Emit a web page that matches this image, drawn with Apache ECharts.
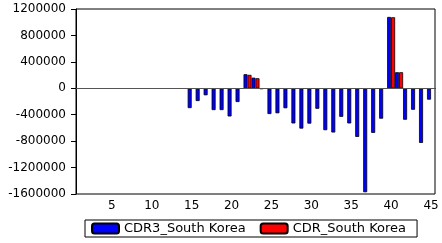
<!DOCTYPE html>
<html>
<head>
<meta charset="utf-8">
<script src="https://cdn.jsdelivr.net/npm/echarts@6.0.0/dist/echarts.min.js"></script>
<style>
  html, body { margin: 0; padding: 0; background: #fff; }
  #chart { width: 442px; height: 243px; }
</style>
</head>
<body>
<div id="chart"></div>
<script>
// x categories (observation number)
var categories = ['1','2','3','4','5','6','7','8','9','10','11','12','13','14','15',
    '16','17','18','19','20','21','22','23','24','25','26','27','28','29','30',
    '31','32','33','34','35','36','37','38','39','40','41','42','43','44','45'];

// CDR3_South Korea (blue)
var cdr3 = ['-','-','-','-','-','-','-','-','-','-','-','-','-','-',
    -300000, -193000, -106000, -330000, -330000, -426000, -208000, 213000, 161000, -12000,
    -390000, -378000, -302000, -532000, -610000, -535000, -310000, -634000, -669000, -432000,
    -532000, -736000, -1573000, -675000, -460000, 1080000, 243000, -476000, -325000, -827000, -172000];

// CDR_South Korea (red)
var cdr = ['-','-','-','-','-','-','-','-','-','-','-','-','-','-',
    '-','-','-','-','-','-','-', 203000, 152000, '-',
    '-','-','-','-','-','-','-','-','-','-',
    '-','-','-','-','-', 1075000, 243000, '-','-','-','-'];

var yTicks = { min: -1600000, max: 1200000, step: 400000 };
var seriesNames = ['CDR3_South Korea', 'CDR_South Korea'];

var chartDom = document.getElementById('chart');
var myChart = echarts.init(chartDom);
var font = 'DejaVu Sans';
var option;

option = {
    animation: false,
    grid: {
        left: 76,
        right: 7,
        top: 9,
        bottom: 49,
        show: true,
        borderColor: '#000',
        borderWidth: 1,
        backgroundColor: 'transparent'
    },
    legend: {
        data: seriesNames,
        left: 85,
        top: 220,
        width: 350,
        itemWidth: 27,
        itemHeight: 10,
        itemGap: 14,
        padding: [2, 11, 2, 6],
        borderColor: '#000',
        borderWidth: 1,
        textStyle: { fontFamily: font, fontSize: 13, color: '#000' }
    },
    xAxis: [{
        type: 'category',
        position: 'bottom',
        data: categories,
        boundaryGap: true,
        axisLine: { lineStyle: { color: '#000', width: 1 } },
        axisTick: { interval: 0, alignWithLabel: true, length: 3, lineStyle: { color: '#000' } },
        axisLabel: {
            interval: function (i) { return (i + 1) % 5 === 0; },
            margin: 6,
            fontFamily: font,
            fontSize: 12,
            color: '#000'
        },
        splitLine: { show: false }
    }, {
        type: 'category',
        position: 'bottom',
        data: categories,
        boundaryGap: true,
        axisLine: { show: false },
        axisTick: {
            interval: function (i) { return (i + 1) % 5 === 0; },
            alignWithLabel: true,
            length: 6,
            lineStyle: { color: '#000' }
        },
        axisLabel: { show: false },
        splitLine: { show: false }
    }],
    yAxis: {
        type: 'value',
        min: yTicks.min,
        max: yTicks.max,
        interval: yTicks.step,
        axisLine: { show: true, lineStyle: { color: '#000', width: 1 } },
        axisTick: { show: true, length: 5, lineStyle: { color: '#000' } },
        axisLabel: {
            margin: 10,
            fontFamily: font,
            fontSize: 12,
            color: '#000',
            formatter: function (v) { return String(v); }
        },
        splitLine: { show: false }
    },
    series: [{
        name: seriesNames[0],
        type: 'bar',
        data: cdr3,
        barGap: '0%',
        barCategoryGap: '0%',
        itemStyle: { color: '#0000ff', borderColor: '#000', borderWidth: 0.8 },
        markLine: {
            silent: true,
            symbol: 'none',
            label: { show: false },
            lineStyle: { color: '#555', width: 1, type: 'solid' },
            data: [{ yAxis: 0 }]
        }
    }, {
        name: seriesNames[1],
        type: 'bar',
        data: cdr,
        barGap: '0%',
        barCategoryGap: '0%',
        itemStyle: { color: '#ff0000', borderColor: '#000', borderWidth: 0.8 }
    }]
};
option && myChart.setOption(option);
</script>
</body>
</html>
